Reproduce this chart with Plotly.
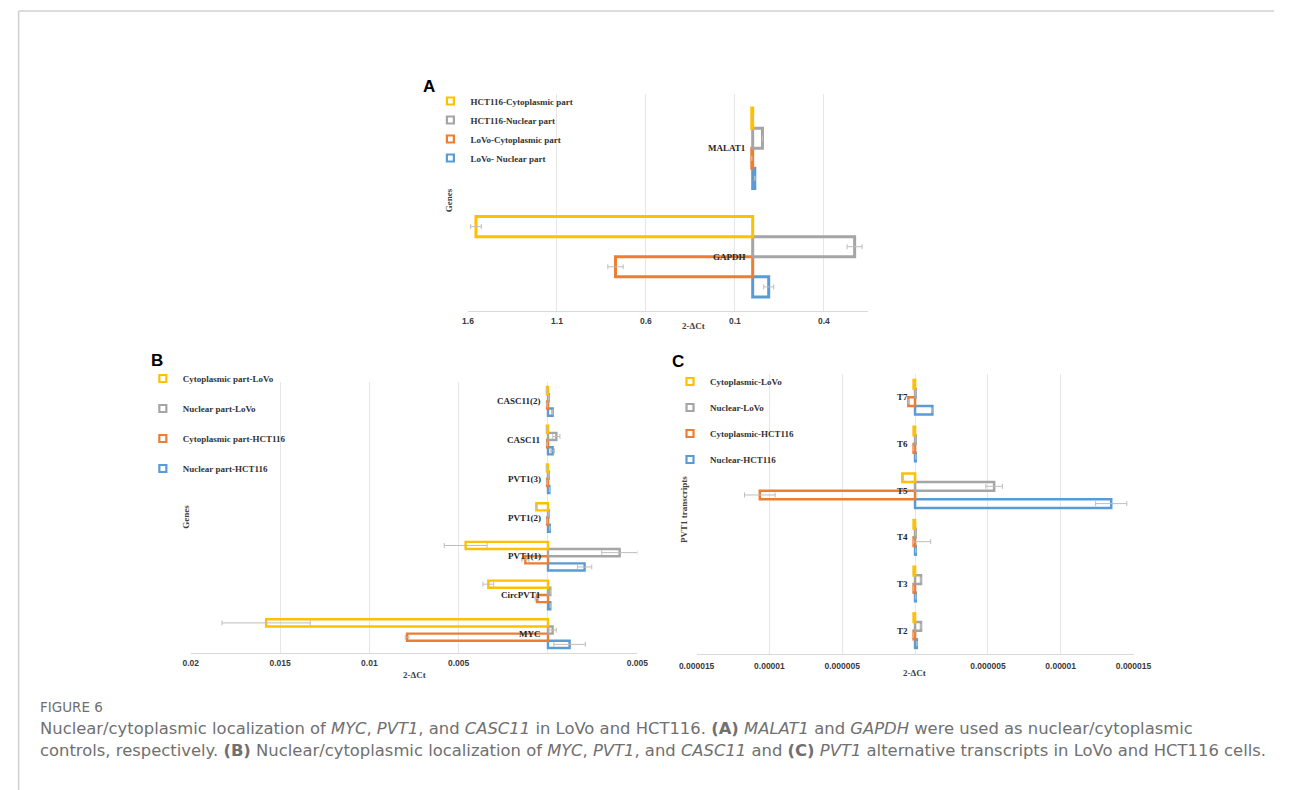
import plotly.graph_objects as go

W, H = 1292, 790

# ---------------- Panel A data ----------------
genes_a = ["GAPDH", "MALAT1"]
a_hct_cyto = [1.555, 0.005]
a_hct_cyto_err = [0.030, 0.0]
a_hct_nuc = [0.573, 0.055]
a_hct_nuc_err = [0.042, 0.0]
a_lovo_cyto = [0.771, 0.005]
a_lovo_cyto_err = [0.043, 0.0]
a_lovo_nuc = [0.090, 0.012]
a_lovo_nuc_err = [0.028, 0.0]
a_tickvals = [-1.6, -1.1, -0.6, -0.1, 0.4]
a_ticktext = ["1.6", "1.1", "0.6", "0.1", "0.4"]

# ---------------- Panel B data ----------------
genes_b = ["MYC", "CircPVT1", "PVT1(1)", "PVT1(2)", "PVT1(3)", "CASC11", "CASC11(2)"]
b_cyto_lovo = [0.01578, 0.00334, 0.00461, 0.00065, 0.00006, 0.00006, 0.00006]
b_cyto_lovo_err = [0.00247, 0.0003, 0.0012, 0.00003, 0.0, 0.0, 0.0]
b_nuc_lovo = [0.00026, 0.00013, 0.00401, 0.00005, 0.00005, 0.00047, 0.00005]
b_nuc_lovo_err = [0.0002, 0.0, 0.001, 0.0, 0.0, 0.0002, 0.0]
b_cyto_hct = [0.00789, 0.00062, 0.00127, 0.00005, 0.00005, 0.00005, 0.00005]
b_cyto_hct_err = [0.0001, 0.0001, 0.0002, 0.0, 0.0, 0.0, 0.0]
b_nuc_hct = [0.00121, 0.00013, 0.00205, 0.0001, 0.00008, 0.00026, 0.00026]
b_nuc_hct_err = [0.00088, 0.0, 0.0004, 0.0, 0.0, 0.0001, 0.0]
b_tickvals = [-0.02, -0.015, -0.01, -0.005, 0.0, 0.005]
b_ticktext = ["0.02", "0.015", "0.01", "0.005", "", "0.005"]

# ---------------- Panel C data ----------------
transcripts_c = ["T2", "T3", "T4", "T5", "T6", "T7"]
c_cyto_lovo = [0.1e-6, 0.1e-6, 0.1e-6, 0.87e-6, 0.1e-6, 0.1e-6]
c_cyto_lovo_err = [0.0, 0.0, 0.0, 0.05e-6, 0.0, 0.0]
c_nuc_lovo = [0.41e-6, 0.41e-6, 0.05e-6, 5.43e-6, 0.05e-6, 0.05e-6]
c_nuc_lovo_err = [0.0, 0.0, 0.0, 0.57e-6, 0.0, 0.0]
c_cyto_hct = [0.1e-6, 0.1e-6, 0.1e-6, 10.66e-6, 0.1e-6, 0.46e-6]
c_cyto_hct_err_inner = [0.0, 0.0, 1.17e-6, 1.05e-6, 0.0, 0.0]
c_cyto_hct_err_outer = [0.0, 0.0, 0.0, 1.05e-6, 0.0, 0.0]
c_nuc_hct = [0.12e-6, 0.05e-6, 0.05e-6, 13.47e-6, 0.05e-6, 1.19e-6]
c_nuc_hct_err = [0.0, 0.0, 0.0, 1.07e-6, 0.0, 0.05e-6]
c_tickvals = [-1.5e-5, -1e-5, -5e-6, 0.0, 5e-6, 1e-5, 1.5e-5]
c_ticktext = ["0.000015", "0.00001", "0.000005", "", "0.000005", "0.00001", "0.000015"]

YELLOW = "#FFC000"
GRAY = "#A5A5A5"
ORANGE = "#ED7D31"
BLUE = "#5B9BD5"

SERIF = "Liberation Serif"
SANS = "Liberation Sans"

# the captured page is mapped horizontally as  x_shown = OFF + S * x_paper
OFF, S = 17.0, 0.9737


def px(x):
    return ((x - OFF) / S) / W


def py(y):
    return 1 - y / H


fig = go.Figure()


def add_panel(n, cats, series, legend_id, lw):
    xa = "x" if n == 1 else f"x{n}"
    ya = "y" if n == 1 else f"y{n}"
    # legend entries (top-to-bottom order)
    for name, vals, e_right, e_left, color, sign in series:
        fig.add_trace(go.Scatter(
            x=[None], y=[None], xaxis=xa, yaxis=ya, mode="markers", name=name,
            legendgroup=f"{legend_id}-{name}", legend=legend_id, hoverinfo="skip",
            marker=dict(symbol="square", size=7, color="white",
                        line=dict(color=color, width=2.2)),
        ))
    # bars: plotted bottom-to-top in each group
    for name, vals, e_right, e_left, color, sign in reversed(series):
        xs = [sign * v for v in vals]
        fig.add_trace(go.Bar(
            orientation="h", y=cats, x=xs, xaxis=xa, yaxis=ya, name=name,
            legendgroup=f"{legend_id}-{name}", showlegend=False,
            marker=dict(color="rgba(255,255,255,0)", line=dict(color=color, width=lw)),
            error_x=dict(type="data", symmetric=False, array=e_right, arrayminus=e_left,
                         color="#BDBDBD", thickness=1, width=2.5),
        ))
    for c in cats:
        fig.add_annotation(
            x=0, y=c, xref=xa, yref=ya, text=c, showarrow=False,
            xanchor="right", yanchor="middle", xshift=-5,
            font=dict(family=SERIF, size=9, color="#262626", weight="bold"),
        )


series_a = [
    ("HCT116-Cytoplasmic part", a_hct_cyto, a_hct_cyto_err, a_hct_cyto_err, YELLOW, -1),
    ("HCT116-Nuclear part", a_hct_nuc, a_hct_nuc_err, a_hct_nuc_err, GRAY, 1),
    ("LoVo-Cytoplasmic part", a_lovo_cyto, a_lovo_cyto_err, a_lovo_cyto_err, ORANGE, -1),
    ("LoVo- Nuclear part", a_lovo_nuc, a_lovo_nuc_err, a_lovo_nuc_err, BLUE, 1),
]
add_panel(1, genes_a, series_a, "legend", 3)

series_b = [
    ("Cytoplasmic part-LoVo", b_cyto_lovo, b_cyto_lovo_err, b_cyto_lovo_err, YELLOW, -1),
    ("Nuclear part-LoVo", b_nuc_lovo, b_nuc_lovo_err, b_nuc_lovo_err, GRAY, 1),
    ("Cytoplasmic part-HCT116", b_cyto_hct, b_cyto_hct_err, b_cyto_hct_err, ORANGE, -1),
    ("Nuclear part-HCT116", b_nuc_hct, b_nuc_hct_err, b_nuc_hct_err, BLUE, 1),
]
add_panel(2, genes_b, series_b, "legend2", 2.4)

series_c = [
    ("Cytoplasmic-LoVo", c_cyto_lovo, c_cyto_lovo_err, c_cyto_lovo_err, YELLOW, -1),
    ("Nuclear-LoVo", c_nuc_lovo, c_nuc_lovo_err, c_nuc_lovo_err, GRAY, 1),
    ("Cytoplasmic-HCT116", c_cyto_hct, c_cyto_hct_err_inner, c_cyto_hct_err_outer, ORANGE, -1),
    ("Nuclear-HCT116", c_nuc_hct, c_nuc_hct_err, c_nuc_hct_err, BLUE, 1),
]
add_panel(3, transcripts_c, series_c, "legend3", 2.5)

tickfont = dict(family=SANS, size=8.5, color="#3A3A3A", weight="bold")


def xcfg(domain, rng, tv, tt, anchor, standoff=2):
    return dict(domain=domain, range=rng, anchor=anchor, tickvals=tv, ticktext=tt,
                showgrid=True, gridcolor="#E6E6E6", gridwidth=1, zeroline=False,
                showline=True, linecolor="#D9D9D9", linewidth=1, ticks="",
                tickfont=tickfont, fixedrange=True, ticklabelstandoff=standoff)


def ycfg(domain, cats, anchor):
    return dict(domain=domain, anchor=anchor, type="category", categoryorder="array",
                categoryarray=cats, range=[-0.5, len(cats) - 0.5], showticklabels=False,
                showgrid=False, zeroline=False, showline=False, ticks="", fixedrange=True)


legfont = dict(family=SERIF, size=9, color="#333333", weight="bold")


def legx(text_left):
    # legend text starts 40px right of the legend's left edge
    return px(text_left) - 40 / W


fig.update_layout(
    width=W, height=H, margin=dict(l=0, r=0, t=0, b=0),
    paper_bgcolor="white", plot_bgcolor="rgba(0,0,0,0)",
    barmode="group", bargap=0.26, bargroupgap=0,
    xaxis=xcfg([px(467.7), px(868)], [-1.6, 0.646], a_tickvals, a_ticktext, "y"),
    yaxis=ycfg([py(311), py(94)], genes_a, "x"),
    xaxis2=xcfg([px(190), px(637.3)], [-0.02, 0.005], b_tickvals, b_ticktext, "y2"),
    yaxis2=ycfg([py(653), py(382)], genes_b, "x2"),
    xaxis3=xcfg([px(696.7), px(1134.3)], [-1.5e-5, 1.5e-5], c_tickvals, c_ticktext, "y3", 4),
    yaxis3=ycfg([py(654), py(374)], transcripts_c, "x3"),
    legend=dict(x=legx(469), y=py(86.5), xanchor="left", yanchor="top",
                bgcolor="rgba(0,0,0,0)", font=legfont, tracegroupgap=0, borderwidth=0),
    legend2=dict(x=legx(181), y=py(364), xanchor="left", yanchor="top",
                 bgcolor="rgba(0,0,0,0)", font=legfont, tracegroupgap=11, borderwidth=0),
    legend3=dict(x=legx(709), y=py(367), xanchor="left", yanchor="top",
                 bgcolor="rgba(0,0,0,0)", font=legfont, tracegroupgap=7, borderwidth=0),
    showlegend=True,
)

# Axis titles
axis_font = dict(family=SERIF, size=9, color="#404040", weight="bold")
titles = [
    ("Genes", 449, 200, -90),
    ("2-ΔCt", 694, 326, 0),
    ("Genes", 185, 517, -90),
    ("2-ΔCt", 414, 675, 0),
    ("PVT1 transcripts", 684, 509, -90),
    ("2-ΔCt", 915, 673, 0),
]
for t, x, y, ang in titles:
    fig.add_annotation(x=px(x), y=py(y), xref="paper", yref="paper", text=t, showarrow=False,
                       xanchor="center", yanchor="middle", textangle=ang, font=axis_font)

# Panel letters
for t, x, y in [("A", 429, 86), ("B", 156, 360), ("C", 678, 361)]:
    fig.add_annotation(x=px(x), y=py(y), xref="paper", yref="paper", text=t, showarrow=False,
                       xanchor="center", yanchor="middle",
                       font=dict(family=SANS, size=17, color="black", weight="bold"))

# Caption
cap_color = "#707070"
CAP_FONT = "DejaVu Sans"
fig.add_annotation(x=px(37), y=py(717), xref="paper", yref="paper", text="FIGURE 6",
                   showarrow=False, xanchor="left", yanchor="bottom",
                   font=dict(family=CAP_FONT, size=13.5, color=cap_color))
fig.add_annotation(
    x=px(37), y=py(717), xref="paper", yref="paper", showarrow=False,
    xanchor="left", yanchor="top",
    text=("Nuclear/cytoplasmic localization of <i>MYC</i>, <i>PVT1</i>, and <i>CASC11</i> in LoVo and "
          "HCT116. <b>(A)</b> <i>MALAT1</i> and <i>GAPDH</i> were used as nuclear/cytoplasmic"),
    font=dict(family=CAP_FONT, size=16.4, color=cap_color))
fig.add_annotation(
    x=px(37), y=py(739), xref="paper", yref="paper", showarrow=False,
    xanchor="left", yanchor="top",
    text=("controls, respectively. <b>(B)</b> Nuclear/cytoplasmic localization of <i>MYC</i>, "
          "<i>PVT1</i>, and <i>CASC11</i> and <b>(C)</b> <i>PVT1</i> alternative transcripts in "
          "LoVo and HCT116 cells."),
    font=dict(family=CAP_FONT, size=16.4, color=cap_color))

# Frame lines
fig.add_shape(type="line", xref="paper", yref="paper", x0=0.0005, x1=1, y0=py(11), y1=py(11),
              line=dict(color="#D0D0D0", width=1.5))
fig.add_shape(type="line", xref="paper", yref="paper", x0=0.0005, x1=0.0005, y0=py(11), y1=0,
              line=dict(color="#D0D0D0", width=1.5))

fig.write_html("out.html")
